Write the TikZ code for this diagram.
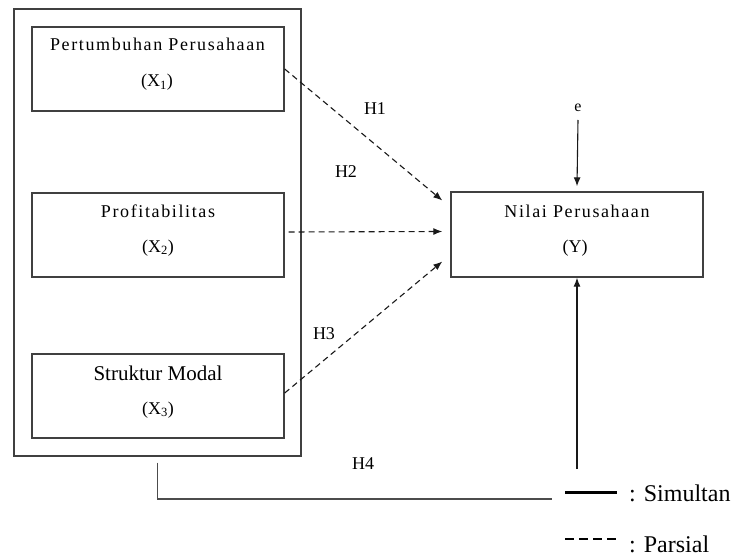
\documentclass[tikz,border=0pt]{standalone}
\usepackage{fontspec}
\setmainfont{Liberation Serif}
\newfontfamily\spacedfont[LetterSpace=9]{Liberation Serif}
\usetikzlibrary{arrows.meta,calc}
\begin{document}
\begin{tikzpicture}[x=1pt,y=-1pt,
  box/.style={draw=black!75,line width=1.4pt,minimum width=252pt,minimum height=84pt,inner sep=0pt},
  lbl/.style={anchor=base,inner sep=0pt,font=\fontsize{18}{20}\selectfont,text=black},
  sptxt/.style={anchor=base,inner sep=0pt,font=\spacedfont\fontsize{18}{20}\selectfont,text=black},
  dsh/.style={dash pattern=on 6pt off 4pt,line width=1.1pt,draw=black!90,-{Latex[length=9pt,width=7pt]}},
  sol/.style={line width=1.1pt,draw=black!90,-{Latex[length=9pt,width=7pt]}},
  legtxt/.style={anchor=base west,inner sep=0pt,font=\fontsize{24}{28}\selectfont,text=black}
]
\useasboundingbox (0,0) rectangle (734,559);
% boxes
\node[box,minimum width=287pt,minimum height=447pt,line width=1.2pt] (outer) at (157.5,232.5) {};
\node[box] (x1) at (158,69) {};
\node[box] (x2) at (158,235) {};
\node[box] (x3) at (158,396) {};
\node[box,minimum height=85pt] (y) at (577,234.5) {};
% texts
\node[sptxt] (t1a) at (157.5,51) {Pertumbuhan Perusahaan};
\node[lbl] (t1b) at (157,87) {(X\textsubscript{1})};
\node[sptxt] (t2a) at (158,217) {Profitabilitas};
\node[lbl] (t2b) at (158,252) {(X\textsubscript{2})};
\node[lbl,font=\fontsize{21}{24}\selectfont] (t3a) at (158,380) {Struktur Modal};
\node[lbl] (t3b) at (158,414) {(X\textsubscript{3})};
\node[sptxt] (tya) at (577,217) {Nilai Perusahaan};
\node[lbl] (tyb) at (575,252) {(Y)};
\node[lbl] (h1) at (375,115) {H1};
\node[lbl] (h2) at (346,178) {H2};
\node[lbl] (h3) at (324,339) {H3};
\node[lbl] (h4) at (363,469) {H4};
\node[lbl,font=\fontsize{16}{18}\selectfont] (e) at (578,112) {e};
% connectors
\draw[dsh] (x1.east) -- ([xshift=-8pt,yshift=34pt]y.west);
\draw[dsh] ([xshift=4pt,yshift=3pt]x2.east) -- ([xshift=-8pt,yshift=3pt]y.west);
\draw[dsh] ([yshift=3pt]x3.east) -- ([xshift=-8pt,yshift=-27pt]y.west);
\draw[sol] ([yshift=-8pt]e.base) -- ([yshift=5pt]y.north);
\coordinate (yb) at (577,469);
\draw[sol] (yb) -- (y.south);
\coordinate (hend) at (552,499);
\draw[line width=1.2pt,draw=black!70] ([yshift=-6pt]outer.south) |- (hend);
% legend
\coordinate (s1) at (565,492);
\coordinate (s2) at (617,492);
\draw[line width=3pt] (s1) -- (s2);
\node[legtxt] (simtxt) at (629,501) {: Simultan};
\coordinate (p1) at (565,539);
\coordinate (p2) at (617,539);
\draw[line width=1.5pt,dash pattern=on 9pt off 5pt] (p1) -- (p2);
\node[legtxt] (partxt) at (629,552) {: Parsial};
\end{tikzpicture}
\end{document}
